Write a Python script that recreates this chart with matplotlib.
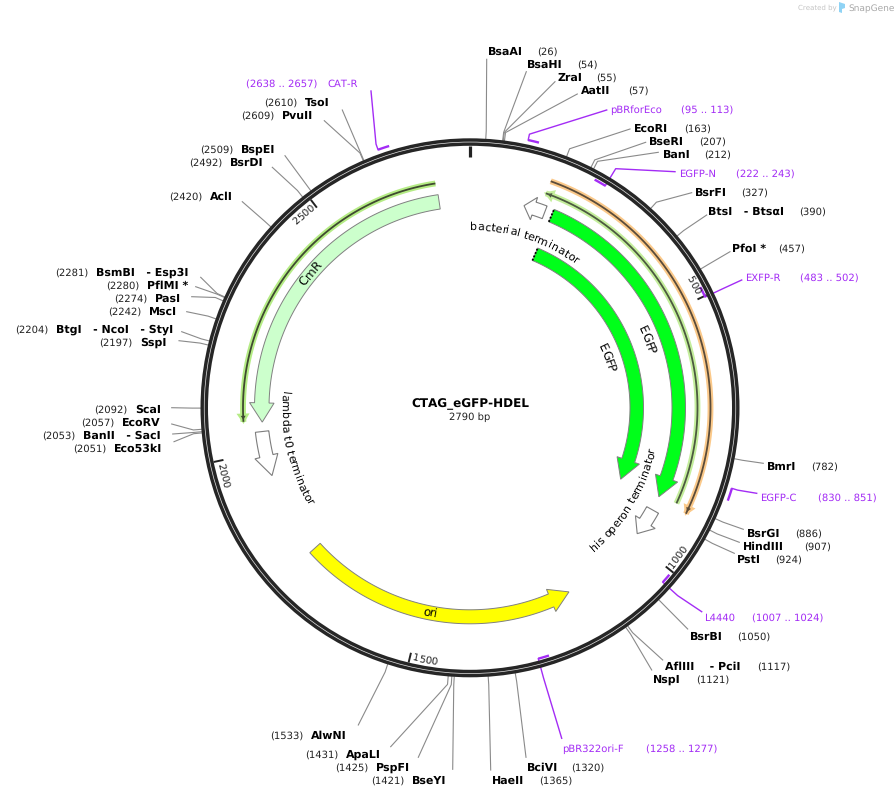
import numpy as np
import matplotlib
matplotlib.use("Agg")
import matplotlib.pyplot as plt
from matplotlib.patches import Circle, Polygon
from matplotlib.textpath import TextToPath
from matplotlib.font_manager import FontProperties

# glyphs placed one by one along the arcs space out badly with hinting on
plt.rcParams["text.hinting"] = "no_hinting"
plt.rcParams["text.hinting_factor"] = 1

plasmid_name = "CTAG_eGFP-HDEL"
plasmid_size = 2790
tick_bp = [500, 1000, 1500, 2000, 2500]

# Restriction sites
site_names = ["BsaAI", "BsaHI", "ZraI", "AatII", "EcoRI", "BseRI", "BanI", "BsrFI",
              "BtsI   - BtsαI", "PfoI *", "BmrI", "BsrGI", "HindIII", "PstI", "BsrBI",
              "AflIII    - PciI", "NspI", "BciVI", "HaeII", "BseYI", "PspFI", "ApaLI",
              "AlwNI", "Eco53kI", "BanII   - SacI", "EcoRV", "ScaI", "SspI",
              "BtgI   - NcoI   - StyI", "MscI", "PasI", "PflMI *", "BsmBI   - Esp3I",
              "AclI", "BsrDI", "BspEI", "PvuII", "TsoI"]
site_bp = [26, 54, 55, 57, 163, 207, 212, 327, 390, 457, 782, 886, 907, 924, 1050,
           1117, 1121, 1320, 1365, 1421, 1425, 1431, 1533, 2051, 2053, 2057, 2092,
           2197, 2204, 2242, 2274, 2280, 2281, 2420, 2492, 2509, 2609, 2610]

# where each site label sits on the page (pixels)
name_x = [487.5, 527, 557, 581, 634, 649, 662.5, 695, 708, 732.5, 767, 747, 743, 737,
          690, 665, 653, 526.5, 491.5, 412.3, 376.3, 346, 311, 114.3, 83.3, 122.3,
          135, 140, 56, 149.3, 155.3, 147.3, 96.3, 210, 230.3, 241, 282.3, 305]
pos_x = [537.5, 577, 596, 628, 684.5, 699, 704, 741.5, 799.5, 778.5, 811, 795, 804,
         775.5, 737.5, 757.5, 696.5, 571, 539, 371, 335, 305.3, 270, 73, 42.3, 81.3,
         94.3, 99.3, 15, 108, 114.3, 106, 55, 169, 189, 200.3, 241, 264]
label_y = [51, 64, 77, 90, 128, 141, 154, 192, 211, 248, 466, 533, 546, 559, 636, 666,
           679, 767, 780, 780, 767, 754, 735, 448, 435, 422, 409, 342, 329, 311, 298,
           285, 272, 196, 162, 149, 115, 102]
line_end_x = [486.7, 526.3, 555, 577.3, 630, 645.7, 658.3, 691.7, 706.7, 730, 763.3,
              743.3, 739.3, 734.3, 687.7, 662.7, 651.7, 526, 490.7, 452.7, 418.3,
              390.7, 358.3, 174, 172.7, 171.7, 171.7, 179, 181.7, 186.7, 191.7,
              195.7, 200.7, 242.3, 272.3, 285, 324.3, 342.3]
line_end_y = [59.3, 71.7, 81.7, 94, 129, 142.3, 152.3, 192.7, 215, 251.7, 463.3, 529.3,
              542.3, 553.3, 629, 660, 670, 757.3, 770, 769.3, 757.3, 746.7, 725,
              441.7, 434, 424, 407.7, 340.7, 331.7, 311.7, 296.7, 286.7, 277.3,
              201.7, 167.3, 155.7, 120.7, 110]

# Primers
primer_names = ["pBRforEco", "EGFP-N", "EXFP-R", "EGFP-C", "L4440", "pBR322ori-F", "CAT-R"]
primer_start = [95, 222, 483, 830, 1007, 1258, 2638]
primer_end = [113, 243, 502, 851, 1024, 1277, 2657]
primer_anchor = [95, 243, 502, 830, 1024, 1277, 2638]
primer_outside = [True, False, False, True, False, False, True]
primer_name_x = [610.5, 679.5, 745, 760, 704, 562, 327]
primer_pos_x = [681, 736.5, 800.5, 817.5, 752.5, 646, 246]
primer_y = [109, 173, 277, 497, 617, 748, 83]
primer_end_x = [606.7, 675, 741.7, 756.7, 701.7, 561.7, 371]
primer_end_y = [110, 171.7, 280, 493.3, 611.7, 738.3, 91]

# Block features: start, head base, tip, inner radius, outer radius (radii in px)
block_starts = [178, 178, 1766, 2724]
block_heads = [850, 840, 1218, 2103]
block_tips = [893, 894, 1176, 2062]
block_colors = ["#00ff1a", "#00ff1a", "#ffff00", "#ccffcc"]
block_r = [(202, 215.5), (160, 173.5), (202, 216), (201, 215.5)]

# white terminator arrows
term_names = ["bacterial terminator", "lambda t0 terminator", "his operon terminator"]
term_starts = [162, 2042, 924]
term_heads = [138, 1989, 954]
term_tips = [116, 1946, 984]

# thin full-length strand lines
thin_starts = [151, 2722, 152]
thin_ends = [890, 2065, 900]
thin_r = [227.5, 227, 240.5]
thin_glow = ["#c4ee9c", "#b5ec85", "#fbc98a"]
thin_dark = ["#4c5a40", "#3f4a30", "#5b4c3a"]
thin_head_at = [151, 2065, 900]

R_OUT = 269.5
R_IN = 262
CX, CY = 470, 407.8
PURPLE = "#a32cf5"
FS = 7.9
FS_REG = 7.56

fig = plt.figure(figsize=(8.96, 7.97), dpi=100)
ax = fig.add_axes([0, 0, 1, 1])
ax.set_xlim(0, 896)
ax.set_ylim(797, 0)
ax.axis("off")

t2p = TextToPath()


def pt(bp, r):
    a = np.radians(np.asarray(bp) / plasmid_size * 360)
    return CX + r * np.sin(a), CY - r * np.cos(a)


def arc(b0, b1, r, n=80):
    return np.column_stack(pt(np.linspace(b0, b1, n), r))


def arrow_poly(start, head, tip, r0, r1, flare=5):
    rm = (r0 + r1) / 2
    pts = [arc(start, head, r1),
           np.array([pt(head, r1 + flare), pt(tip, rm), pt(head, r0 - flare)]),
           arc(head, start, r0)]
    return np.vstack(pts)


def advance(s, prop):
    # ink width drops trailing spaces, so measure against a closing dot
    if not s:
        return 0
    w = t2p.get_text_width_height_descent(s + ".", prop, False)[0]
    return (w - t2p.get_text_width_height_descent(".", prop, False)[0]) * 100 / 72


def curved_text(s, bp, r_mid, size=8.4, flip=False, color="black"):
    prop = FontProperties(family="DejaVu Sans", size=size)
    total = advance(s, prop)
    r = r_mid + size * 100 / 72 * 0.36 if flip else r_mid - size * 100 / 72 * 0.36
    centre = bp / plasmid_size * 360
    for i, ch in enumerate(s):
        d = np.degrees((advance(s[:i], prop) - total / 2) / r)
        a = centre - d if flip else centre + d
        x, y = pt(a / 360 * plasmid_size, r)
        rot = 180 - a if flip else -a
        ax.text(x, y, ch, fontproperties=prop, color=color, rotation=rot,
                rotation_mode="anchor", ha="left", va="baseline", zorder=6)


# backbone
ax.add_patch(Circle((CX, CY), (R_OUT + R_IN) / 2, fill=False, ec="#262626",
                    lw=(R_OUT - R_IN) * 0.72, zorder=3))
ax.add_patch(Circle((CX, CY), (R_OUT + R_IN) / 2, fill=False, ec="#e4e4e4", lw=0.5, zorder=4))

# ticks
x0, y0 = pt(0, R_IN)
x1, y1 = pt(0, 251)
ax.plot([x0, x1], [y0, y1], color="#222222", lw=2.3, solid_capstyle="butt", zorder=3)
for b in tick_bp:
    xa, ya = pt(b, R_IN)
    xb, yb = pt(b, 252)
    ax.plot([xa, xb], [ya, yb], color="#222222", lw=1.4, solid_capstyle="butt", zorder=3)
    flip = 90 < b / plasmid_size * 360 < 270
    curved_text(str(b), b - 26, 255.5, size=7, flip=flip, color="#222222")

# thin strands
for s, e, r, g, d, h in zip(thin_starts, thin_ends, thin_r, thin_glow, thin_dark, thin_head_at):
    pts = arc(s, e, r)
    ax.plot(pts[:, 0], pts[:, 1], color=g, lw=4.2, solid_capstyle="butt", zorder=2)
    ax.plot(pts[:, 0], pts[:, 1], color=d, lw=1.3, solid_capstyle="butt", zorder=2.2)
    back = 14 if h != thin_head_at[2] else -14
    head = np.array([pt(h + back, r + 4.5), pt(h, r), pt(h + back, r - 4.5)])
    ax.add_patch(Polygon(head, closed=True, fc=d, ec=g, lw=1.6, zorder=2.1))

# block arrows
for s, h, t, c, (r0, r1) in zip(block_starts, block_heads, block_tips, block_colors, block_r):
    ax.add_patch(Polygon(arrow_poly(s, h, t, r0, r1), closed=True, fc=c, ec="#808080", lw=0.7, zorder=2))

# dotted start edge on the two EGFP blocks
for (r0, r1) in block_r[:2]:
    xa, ya = pt(block_starts[0], r0)
    xb, yb = pt(block_starts[0], r1)
    ax.plot([xa, xb], [ya, yb], color="black", lw=1.3, ls=(0, (1, 1)), zorder=2.5)

# terminators
for s, h, t in zip(term_starts, term_heads, term_tips):
    ax.add_patch(Polygon(arrow_poly(s, h, t, 202.5, 216), closed=True, fc="white", ec="#7d7d7d", lw=0.8, zorder=2))

# feature labels
curved_text("EGFP", 541, 146)
curved_text("EGFP", 535, 189.5)
curved_text("ori", 1480, 208, flip=True)
curved_text("CmR", 2403, 209)
curved_text(term_names[0], 140, 182, size=8.1)
curved_text(term_names[1], 1992, 185, size=8.1, flip=True)
curved_text(term_names[2], 938, 186, size=8.1, flip=True)

# restriction sites
for n, b, nx, px_, y, ex, ey in zip(site_names, site_bp, name_x, pos_x, label_y, line_end_x, line_end_y):
    xa, ya = pt(b, R_OUT)
    xk, yk = pt(b, R_OUT + 8)
    ax.plot([xa, xk, ex], [ya, yk, ey], color="#8a8a8a", lw=0.8, zorder=1)
    ax.text(nx, y + 4, n, fontsize=FS, fontweight="bold", ha="left", va="baseline", color="black")
    ax.text(px_, y + 4, f"({b})", fontsize=FS_REG, ha="left", va="baseline", color="#222222")

# primers
for n, s, e, an, out, nx, px_, y, ex, ey in zip(primer_names, primer_start, primer_end, primer_anchor,
                                                 primer_outside, primer_name_x, primer_pos_x, primer_y,
                                                 primer_end_x, primer_end_y):
    r = 274 if out else 260
    pts = arc(s, e, r, 20)
    ax.plot(pts[:, 0], pts[:, 1], color=PURPLE, lw=1.7, solid_capstyle="butt", zorder=5)
    xa, ya = pt(an, r)
    xk, yk = pt(an, 280)
    ax.plot([xa, xk, ex], [ya, yk, ey], color=PURPLE, lw=1.0, zorder=1.5)
    ax.text(nx, y + 4, n, fontsize=FS_REG, ha="left", va="baseline", color=PURPLE)
    ax.text(px_, y + 4, f"({s} .. {e})", fontsize=FS_REG, ha="left", va="baseline", color=PURPLE)

# centre title
ax.text(CX, 407, plasmid_name, fontsize=8.9, fontweight="bold", ha="center", va="baseline")
ax.text(CX, 420, f"{plasmid_size} bp", fontsize=7.3, ha="center", va="baseline", color="#222222")

# watermark
ax.text(798, 10, "Created by", fontsize=5, color="#c4c4c4", ha="left", va="baseline")
ax.add_patch(Polygon([(839, 2), (845, 4), (845, 8), (842, 9), (842, 13), (839, 12)], closed=True,
                     fc="#8fd3f5", ec="none"))
ax.text(848, 11, "SnapGene", fontsize=6.3, color="#a8a8a8", ha="left", va="baseline")

fig.savefig("out.png", dpi=100)
